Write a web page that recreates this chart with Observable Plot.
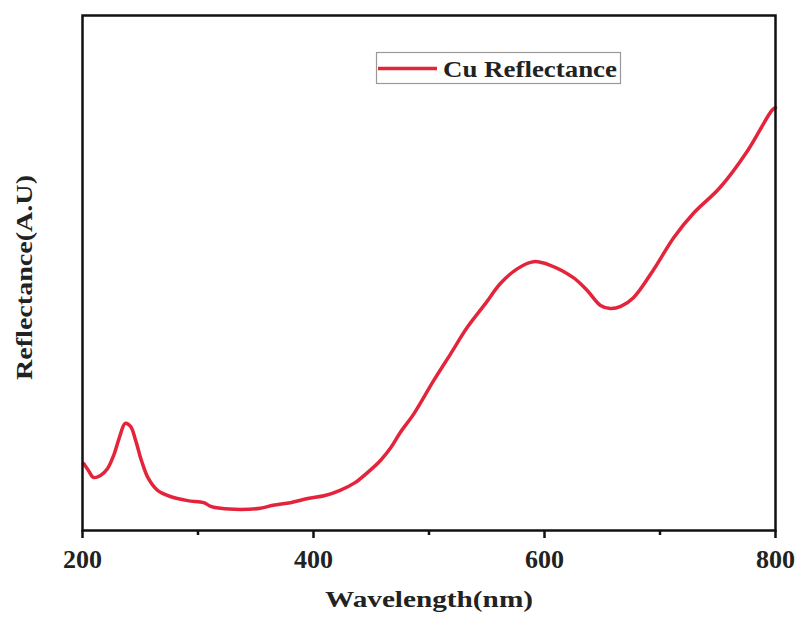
<!DOCTYPE html>
<html>
<head>
<meta charset="utf-8">
<script src="https://cdn.jsdelivr.net/npm/d3@7"></script>
<script src="https://cdn.jsdelivr.net/npm/@observablehq/plot@0.6"></script>
<style>
  html, body { margin: 0; padding: 0; background: #fff; }
</style>
</head>
<body>
<div id="chart"></div>
<script>
const wavelength = [201, 205, 209.5, 215.6, 221.6, 227, 232, 237, 241.6, 246, 251, 257, 265, 276, 291, 305, 311, 319.5, 337, 354, 365, 380, 395, 410, 423, 436, 447, 458, 467, 475, 487, 504, 519, 533, 549, 562, 577, 590.5, 605, 625, 637, 648.5, 657, 666, 677, 694, 712, 729, 752, 776, 797, 800];
const reflectance = [13.0, 11.7, 10.3, 10.7, 12.0, 14.6, 18.1, 20.8, 20.2, 17.5, 13.6, 10.1, 7.8, 6.6, 5.8, 5.4, 4.7, 4.3, 4.1, 4.3, 4.9, 5.4, 6.2, 6.8, 7.8, 9.3, 11.3, 13.6, 16.1, 19.0, 22.7, 29.1, 34.4, 39.4, 44.1, 48.0, 50.9, 52.2, 51.5, 49.1, 46.6, 43.7, 43.1, 43.5, 45.2, 50.5, 56.9, 61.6, 66.6, 73.8, 81.6, 82.1];
const majorTicks = [200, 400, 600, 800];
const minorTicks = [300, 500, 700];
const seriesName = "Cu Reflectance";
const xLabel = "Wavelength(nm)";
const yLabel = "Reflectance(A.U)";
const lineColor = "#e3243b";

const data = wavelength.map((w, i) => ({w, r: reflectance[i]}));

const chart = Plot.plot({
  width: 796,
  height: 626,
  marginLeft: 82,
  marginRight: 21,
  marginTop: 15,
  marginBottom: 96,
  style: {fontFamily: "'Liberation Serif', 'Times New Roman', serif", fontWeight: "bold", fontSize: "26px", color: "#111", background: "#fff"},
  x: {domain: [200, 800]},
  y: {domain: [0, 100]},
  marks: [
    Plot.line(data, {x: "w", y: "r", curve: "catmull-rom", stroke: lineColor, strokeWidth: 3.5}),
    Plot.frame({stroke: "#111", strokeWidth: 2.5}),
    Plot.axisX({ticks: majorTicks, tickSize: 8, tickPadding: 11, strokeWidth: 2.5, stroke: "#111", label: null, fontSize: 26, fill: "#222", tickFormat: d => String(d)}),
    Plot.axisX({ticks: minorTicks, tickSize: 5, strokeWidth: 2.5, stroke: "#111", text: null, label: null}),
    Plot.axisY({ticks: [], label: null}),
    Plot.text([xLabel], {frameAnchor: "bottom", textAnchor: "start", dx: -104, dy: 76, fontSize: 24, fill: "#222"}),
    Plot.text([yLabel], {frameAnchor: "left", textAnchor: "start", rotate: -90, dx: -58, dy: 107, fontSize: 24, fill: "#222"})
  ]
});

document.getElementById("chart").appendChild(chart);

const svg = d3.select(chart);
svg.selectAll("text").each(function() {
  const t = d3.select(this);
  const s = t.text();
  if (s === xLabel) t.attr("textLength", 208).attr("lengthAdjust", "spacingAndGlyphs");
  if (s === yLabel) t.attr("textLength", 205).attr("lengthAdjust", "spacingAndGlyphs");
});

// legend
const lg = svg.append("g").attr("text-anchor", "start");
lg.append("rect").attr("x", 376.5).attr("y", 52.5).attr("width", 244).attr("height", 31)
  .attr("fill", "none").attr("stroke", "#999").attr("stroke-width", 1.2);
lg.append("line").attr("x1", 378).attr("x2", 437).attr("y1", 68.5).attr("y2", 68.5)
  .attr("stroke", lineColor).attr("stroke-width", 3.5);
lg.append("text").attr("x", 443).attr("y", 76.5).text(seriesName)
  .attr("text-anchor", "start")
  .attr("font-size", 24).attr("fill", "#222")
  .attr("textLength", 174).attr("lengthAdjust", "spacingAndGlyphs");
</script>
</body>
</html>
